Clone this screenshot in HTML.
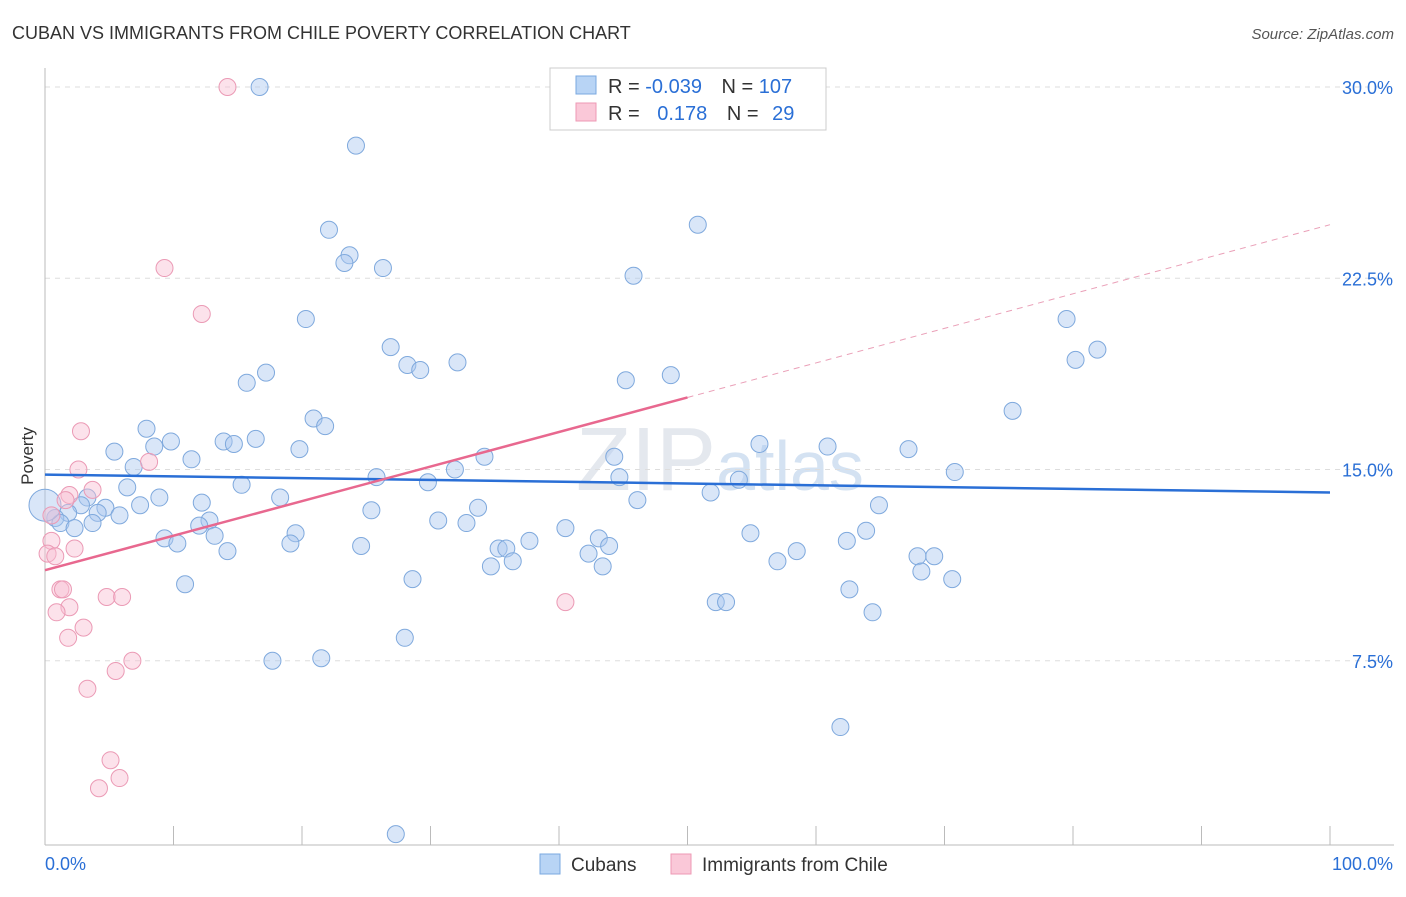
<!DOCTYPE html>
<html><head><meta charset="utf-8"><style>
body{margin:0;background:#fff;font-family:"Liberation Sans",sans-serif;}
svg text{font-family:"Liberation Sans",sans-serif;}
</style></head><body>
<svg id="c" width="1406" height="892">
<text x="12" y="39" font-size="18" fill="#333">CUBAN VS IMMIGRANTS FROM CHILE POVERTY CORRELATION CHART</text>
<text x="1394" y="39" font-size="15" fill="#555" font-style="italic" text-anchor="end">Source: ZipAtlas.com</text>
<text x="720" y="490" font-size="90" fill="#e4e8ee" text-anchor="middle" font-family="Liberation Serif">ZIP<tspan font-size="70" fill="#d4e2f2" font-family="Liberation Sans">atlas</tspan></text>
<text transform="translate(33,456) rotate(-90)" font-size="17" fill="#333" text-anchor="middle">Poverty</text>
<g id="grid"></g><g id="pts"></g><g id="trend"></g>
<g>
<rect x="550" y="68" width="276" height="62" fill="#fff" stroke="#ccc"/>
<rect x="576" y="76" width="20" height="18" fill="#b8d4f5" stroke="#7aa8e0"/>
<rect x="576" y="103" width="20" height="18" fill="#fac8d8" stroke="#ee99b4"/>
<text x="608" y="93" font-size="20" fill="#333">R = <tspan fill="#2a6fd6">-0.039</tspan>  <tspan dx="14">N = </tspan><tspan fill="#2a6fd6">107</tspan></text>
<text x="608" y="120" font-size="20" fill="#333">R = <tspan fill="#2a6fd6" dx="12">0.178</tspan>  <tspan dx="14">N = </tspan><tspan fill="#2a6fd6" dx="8">29</tspan></text>
</g>
<g>
<rect x="540" y="854" width="20" height="20" fill="#b8d4f5" stroke="#7aa8e0"/>
<text x="571" y="871" font-size="19" fill="#333">Cubans</text>
<rect x="671" y="854" width="20" height="20" fill="#fac8d8" stroke="#ee99b4"/>
<text x="702" y="871" font-size="19" fill="#333">Immigrants from Chile</text>
</g>
</svg>
<script>
const yTicks=[7.5,15,22.5,30];
const yTickLabels=["7.5%","15.0%","22.5%","30.0%"];
const xTickLabels=["0.0%","100.0%"];
const blueX=[16.7,24.2,50.8,22.1,23.7,23.3,26.3,45.8,20.3,79.5,81.9,80.2,26.9,32.1,28.2,29.2,17.2,15.7,45.2,48.7,75.3,20.9,21.8,7.9,9.8,13.9,14.7,16.4,8.5,5.4,55.6,60.9,67.2,19.8,11.4,34.2,44.3,6.9,31.9,70.8,25.8,44.7,54.0,29.8,15.3,6.4,51.8,3.3,8.9,18.3,46.1,12.2,7.4,2.8,4.7,64.9,33.7,25.4,1.8,4.1,5.8,0.8,1.2,3.7,12.8,30.6,32.8,12.0,2.3,40.5,19.5,13.2,54.9,63.9,9.3,43.1,62.4,10.3,19.1,24.6,37.7,35.3,35.9,43.9,14.2,42.3,58.5,67.9,69.2,36.4,57.0,34.7,43.4,68.2,70.6,28.6,10.9,62.6,52.2,53.0,64.4,28.0,21.5,17.7,61.9,27.3,0];
const blueY=[30.0,27.7,24.6,24.4,23.4,23.1,22.9,22.6,20.9,20.9,19.7,19.3,19.8,19.2,19.1,18.9,18.8,18.4,18.5,18.7,17.3,17.0,16.7,16.6,16.1,16.1,16.0,16.2,15.9,15.7,16.0,15.9,15.8,15.8,15.4,15.5,15.5,15.1,15.0,14.9,14.7,14.7,14.6,14.5,14.4,14.3,14.1,13.9,13.9,13.9,13.8,13.7,13.6,13.6,13.5,13.6,13.5,13.4,13.3,13.3,13.2,13.1,12.9,12.9,13.0,13.0,12.9,12.8,12.7,12.7,12.5,12.4,12.5,12.6,12.3,12.3,12.2,12.1,12.1,12.0,12.2,11.9,11.9,12.0,11.8,11.7,11.8,11.6,11.6,11.4,11.4,11.2,11.2,11.0,10.7,10.7,10.5,10.3,9.8,9.8,9.4,8.4,7.6,7.5,4.9,0.7,13.6];
const pinkX=[14.2,9.3,12.2,2.8,8.1,2.6,3.7,1.9,1.6,0.5,0.5,2.3,0.2,0.8,1.2,1.4,4.8,6.0,1.9,0.9,40.5,3.0,1.8,6.8,5.5,3.3,5.1,5.8,4.2];
const pinkY=[30.0,22.9,21.1,16.5,15.3,15.0,14.2,14.0,13.8,13.2,12.2,11.9,11.7,11.6,10.3,10.3,10.0,10.0,9.6,9.4,9.8,8.8,8.4,7.5,7.1,6.4,3.6,2.9,2.5];
const blueTrend=[14.8,14.1];
const pinkTrend=[11.05,24.6];
const pinkSolidEnd=50;
const X=v=>45+v*12.85, Y=v=>852-v*25.5;
const NS="http://www.w3.org/2000/svg";
function mk(t,a,p){const e=document.createElementNS(NS,t);for(const k in a)e.setAttribute(k,a[k]);p.appendChild(e);return e;}
const grid=document.getElementById('grid'),pts=document.getElementById('pts'),tr=document.getElementById('trend');
yTicks.forEach((v,i)=>{
 const l=mk('line',{x1:45,x2:1394,y1:Y(v),y2:Y(v),stroke:'#ddd','stroke-dasharray':'5,5'},grid);
 
 
 const t=mk('text',{x:1393,y:Y(v)+7,'font-size':18,fill:'#2a6fd6','text-anchor':'end'},grid);
 t.textContent=yTickLabels[i];
 
 
});
const ax=mk('line',{x1:45,x2:45,y1:68,y2:845,stroke:'#bbb'},grid);


const bx=mk('line',{x1:45,x2:1394,y1:845,y2:845,stroke:'#bbb'},grid);


for(let i=0;i<=10;i++){const t=mk('line',{x1:X(i*10),x2:X(i*10),y1:826,y2:845,stroke:'#bbb'},grid);
 
 }
[[0,'start',45],[100,'end',1393]].forEach((d,i)=>{const t=mk('text',{x:d[2],y:870,'font-size':18,fill:'#2a6fd6','text-anchor':d[1]},grid);t.textContent=xTickLabels[i];
 
 });
blueX.forEach((v,i)=>{const big=i==blueX.length-1;const c=mk('circle',{cx:X(v),cy:Y(blueY[i]),r:big?16:8.5,fill:'rgba(170,200,240,0.45)',stroke:'#7fa9dd','stroke-width':1},pts);
 
 });
pinkX.forEach((v,i)=>{const c=mk('circle',{cx:X(v),cy:Y(pinkY[i]),r:8.5,fill:'rgba(248,190,210,0.45)',stroke:'#eb9ab5','stroke-width':1},pts);
 
 });
const bl=mk('line',{x1:X(0),y1:Y(blueTrend[0]),x2:X(100),y2:Y(blueTrend[1]),stroke:'#2a6fd6','stroke-width':2.5},tr);


const pm=pinkTrend[0]+(pinkTrend[1]-pinkTrend[0])*pinkSolidEnd/100;
const ps=mk('line',{x1:X(0),y1:Y(pinkTrend[0]),x2:X(pinkSolidEnd),y2:Y(pm),stroke:'#e8688f','stroke-width':2.5},tr);


const pd=mk('line',{x1:X(pinkSolidEnd),y1:Y(pm),x2:X(100),y2:Y(pinkTrend[1]),stroke:'#eaa0b8','stroke-width':1,'stroke-dasharray':'6,5'},tr);


</script>
</body></html>
